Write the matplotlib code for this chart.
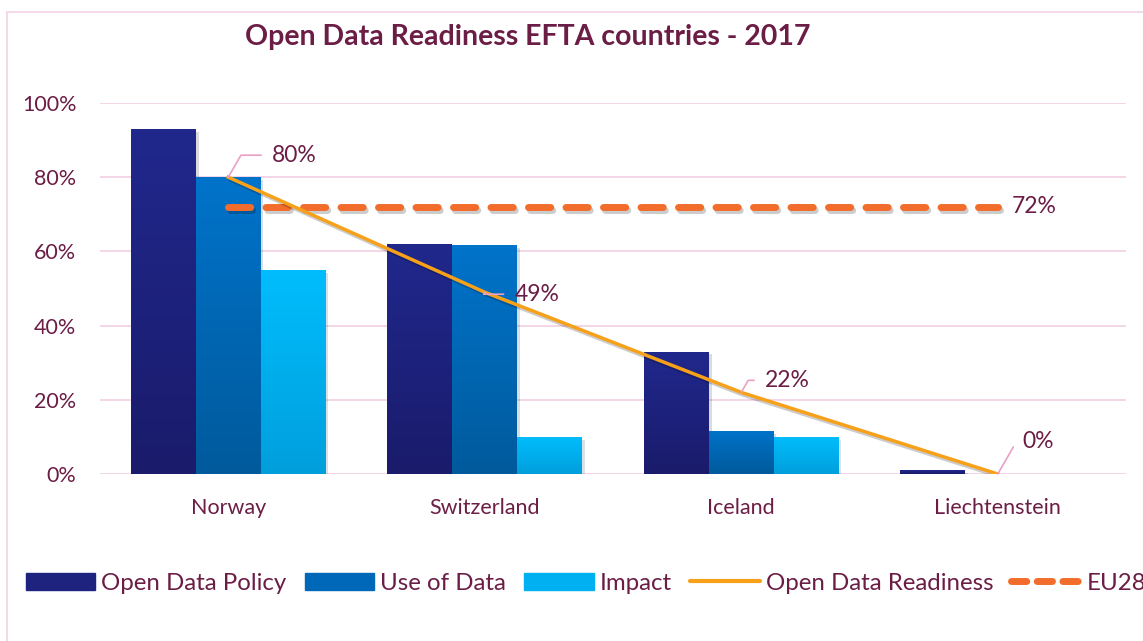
import numpy as np
import matplotlib
matplotlib.use("Agg")
import matplotlib.pyplot as plt
from matplotlib.colors import LinearSegmentedColormap
from matplotlib.patches import Rectangle, Patch
from matplotlib.lines import Line2D
import matplotlib.patheffects as pe

# --- data ---
countries = ["Norway", "Switzerland", "Iceland", "Liechtenstein"]
policy = [0.93, 0.62, 0.33, 0.01]
use_of_data = [0.80, 0.617, 0.116, 0.0]
impact = [0.55, 0.10, 0.10, 0.0]
readiness = [0.80, 0.49, 0.22, 0.0]
eu28 = 0.72
ticks = [0, 0.2, 0.4, 0.6, 0.8, 1.0]

MAROON = "#6b1d45"
GRID = "#f2d3e4"
LEADER = "#e8a0c6"
FONT = "Lato"

plt.rcParams["font.family"] = [FONT, "DejaVu Sans"]

fig = plt.figure(figsize=(11.43, 6.41), dpi=100)
ax = fig.add_axes([100 / 1143, 1 - 474 / 641, 1026 / 1143, 371 / 641])

# pink chart frame
fig.patches.append(Rectangle((7 / 1143, -0.1), 1.2, 1 - 12 / 641 + 0.1,
                             transform=fig.transFigure, fill=False,
                             edgecolor=GRID, lw=1.2, zorder=0))

x = np.arange(len(countries))
w = 0.253
series = [
    (policy, -w, "#20288c", "#1a1b6b", "Open Data Policy"),
    (use_of_data, 0, "#0073ca", "#005a9c", "Use of Data"),
    (impact, w, "#00bdfd", "#009fdc", "Impact"),
]

grad = np.linspace(1, 0, 100).reshape(-1, 1)
shadow = [pe.SimplePatchShadow(offset=(2, -2), alpha=0.15), pe.Normal()]
for vals, off, top, bottom, name in series:
    cmap = LinearSegmentedColormap.from_list(name, [bottom, top])
    bars = ax.bar(x + off, vals, width=w, color=top, zorder=2, path_effects=shadow)
    for b in bars:
        h = b.get_height()
        if h <= 0:
            continue
        im = ax.imshow(grad, extent=[b.get_x(), b.get_x() + b.get_width(), 0, h],
                       aspect="auto", cmap=cmap, zorder=2.5, origin="upper")
        im.set_clip_path(b)

# readiness line and EU28 reference
line_shadow = [pe.SimpleLineShadow(offset=(1.5, -2), alpha=0.2), pe.Normal()]
ax.plot(x, readiness, color="#f7a11a", lw=2.5, zorder=4, path_effects=line_shadow)
ax.plot([x[0], x[-1]], [eu28, eu28], color="#f26c2b", lw=5, ls=(0, (3.2, 2.2)),
        dash_capstyle="round", zorder=3, path_effects=line_shadow)
ax.text(3 + 14 / 256.5, eu28, "72%", color=MAROON, fontsize=16.5, va="center", ha="left")

# readiness data labels with leader lines (offsets in pixels)
label_offsets = [(44, 22), (30, -2), (24, 12), (25, 32)]
for xi, v, (dx, dy) in zip(x, readiness, label_offsets):
    ax.annotate(f"{v:.0%}", xy=(xi, v), xytext=(dx * 0.72, dy * 0.72),
                textcoords="offset points", color=MAROON, fontsize=16.5,
                ha="left", va="center", zorder=5,
                arrowprops=dict(arrowstyle="-", color=LEADER, lw=1.2,
                                relpos=(0, 0.5), shrinkA=6, shrinkB=0,
                                connectionstyle="angle,angleA=0,angleB=60,rad=0"))

ax.set_xlim(-0.5, 3.5)
ax.set_ylim(0, 1.0)
ax.set_yticks(ticks)
ax.set_yticklabels([f"{t:.0%}" for t in ticks], color=MAROON, fontsize=15.5)
ax.set_xticks(x)
ax.set_xticklabels(countries, color=MAROON, fontsize=15.5)
ax.tick_params(length=0, axis="y", pad=17)
ax.tick_params(length=0, axis="x", pad=17)
ax.grid(axis="y", color=GRID, lw=1.3, zorder=0)
ax.set_axisbelow(True)
for s in ax.spines.values():
    s.set_visible(False)

fig.text(528 / 1143, 1 - 37 / 641, "Open Data Readiness EFTA countries - 2017",
         ha="center", va="center", fontsize=20.5, fontweight="bold", color=MAROON)

handles = [
    Patch(color="#1e2380"), Patch(color="#0068b8"), Patch(color="#00b0f0"),
    Line2D([], [], color="#f7a11a", lw=3, solid_capstyle="round"),
    Line2D([], [], color="#f26c2b", lw=5, ls=(0, (2.2, 1.5)), dash_capstyle="round"),
]
names = ["Open Data Policy", "Use of Data", "Impact", "Open Data Readiness", "EU28"]
leg = fig.legend(handles, names, ncol=5, loc="center left",
                 bbox_to_anchor=(4 / 1143, 1 - 583 / 641), frameon=False,
                 fontsize=17.3, handlelength=2.9, handleheight=0.7,
                 handletextpad=0.25, columnspacing=0.75, labelcolor=MAROON)

fig.savefig("out.png", dpi=100)
